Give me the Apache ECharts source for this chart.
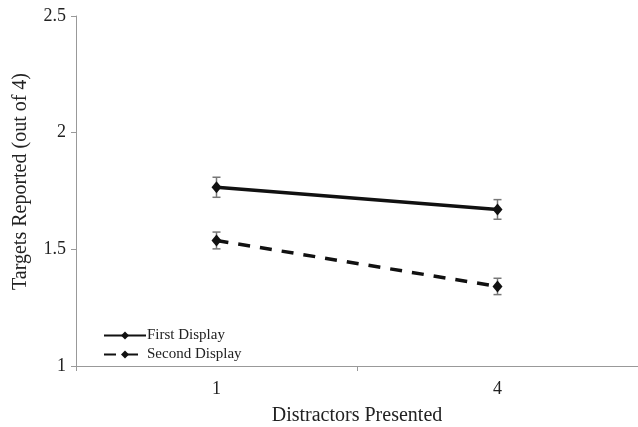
<!DOCTYPE html>
<html><head><meta charset="utf-8">
<script src="https://cdn.jsdelivr.net/npm/echarts@6/dist/echarts.min.js"></script>
<style>html,body{margin:0;padding:0;background:#fff}#c{width:638px;height:427px}</style>
</head><body><div id="c"></div>
<script>
const categories = ['1', '4'];
const firstDisplay = [1.766, 1.671];
const firstErr = [0.043, 0.042];
const secondDisplay = [1.538, 1.341];
const secondErr = [0.036, 0.035];
const yTicks = [1, 1.5, 2, 2.5];

const font = '"Liberation Serif", "Times New Roman", serif';
function errData(vals, errs) {
  return vals.map((v, i) => [i, v - errs[i], v + errs[i]]);
}
function errRender(params, api) {
  const x = api.value(0);
  const lo = api.coord([x, api.value(1)]);
  const hi = api.coord([x, api.value(2)]);
  const w = 4;
  const style = { stroke: '#777', lineWidth: 1.5 };
  return {
    type: 'group',
    children: [
      { type: 'line', shape: { x1: lo[0], y1: lo[1], x2: hi[0], y2: hi[1] }, style },
      { type: 'line', shape: { x1: lo[0] - w, y1: lo[1], x2: lo[0] + w, y2: lo[1] }, style },
      { type: 'line', shape: { x1: hi[0] - w, y1: hi[1], x2: hi[0] + w, y2: hi[1] }, style }
    ]
  };
}
const chart = echarts.init(document.getElementById('c'));
chart.setOption({
  animation: false,
  grid: { left: 76, right: 0, top: 16, bottom: 61, outerBoundsMode: 'none', containLabel: false },
  legend: {
    orient: 'vertical', left: 98, top: 323, itemGap: 4,
    itemWidth: 42, itemHeight: 10,
    textStyle: { fontFamily: font, fontSize: 15, color: '#222', padding: [0, 0, 0, -4] },
    data: ['First Display', 'Second Display']
  },
  xAxis: {
    type: 'category', data: categories, boundaryGap: true,
    name: 'Distractors Presented', nameLocation: 'middle', nameGap: 40,
    nameTextStyle: { fontFamily: font, fontSize: 20, color: '#222' },
    axisLine: { lineStyle: { color: '#999', width: 1 } },
    axisTick: { show: true, length: 5, lineStyle: { color: '#999' } },
    axisLabel: { fontFamily: font, fontSize: 18, color: '#222', margin: 14 }
  },
  yAxis: {
    type: 'value', min: 1, max: 2.5, interval: 0.5,
    name: 'Targets Reported (out of 4)', nameLocation: 'middle', nameGap: 45,
    nameTextStyle: { fontFamily: font, fontSize: 20, color: '#222', padding: [0, 0, 0, 19] },
    axisLine: { show: true, lineStyle: { color: '#999', width: 1 } },
    axisTick: { show: true, length: 5, lineStyle: { color: '#999' } },
    splitLine: { show: false },
    axisLabel: { fontFamily: font, fontSize: 18, color: '#222', margin: 10,
      formatter: v => String(yTicks.find(t => Math.abs(t - v) < 1e-9) ?? v) }
  },
  series: [
    {
      name: 'First Display', type: 'line', data: firstDisplay,
      symbol: 'diamond', symbolSize: [10, 12],
      lineStyle: { color: '#111', width: 3.5 }, itemStyle: { color: '#111' }, z: 3
    },
    {
      name: 'Second Display', type: 'line', data: secondDisplay,
      symbol: 'diamond', symbolSize: [10, 12],
      lineStyle: { color: '#111', width: 3.5, type: [12, 10] }, itemStyle: { color: '#111' }, z: 3
    },
    { type: 'custom', data: errData(firstDisplay, firstErr), renderItem: errRender, z: 2, silent: true },
    { type: 'custom', data: errData(secondDisplay, secondErr), renderItem: errRender, z: 2, silent: true }
  ]
});
</script></body></html>
